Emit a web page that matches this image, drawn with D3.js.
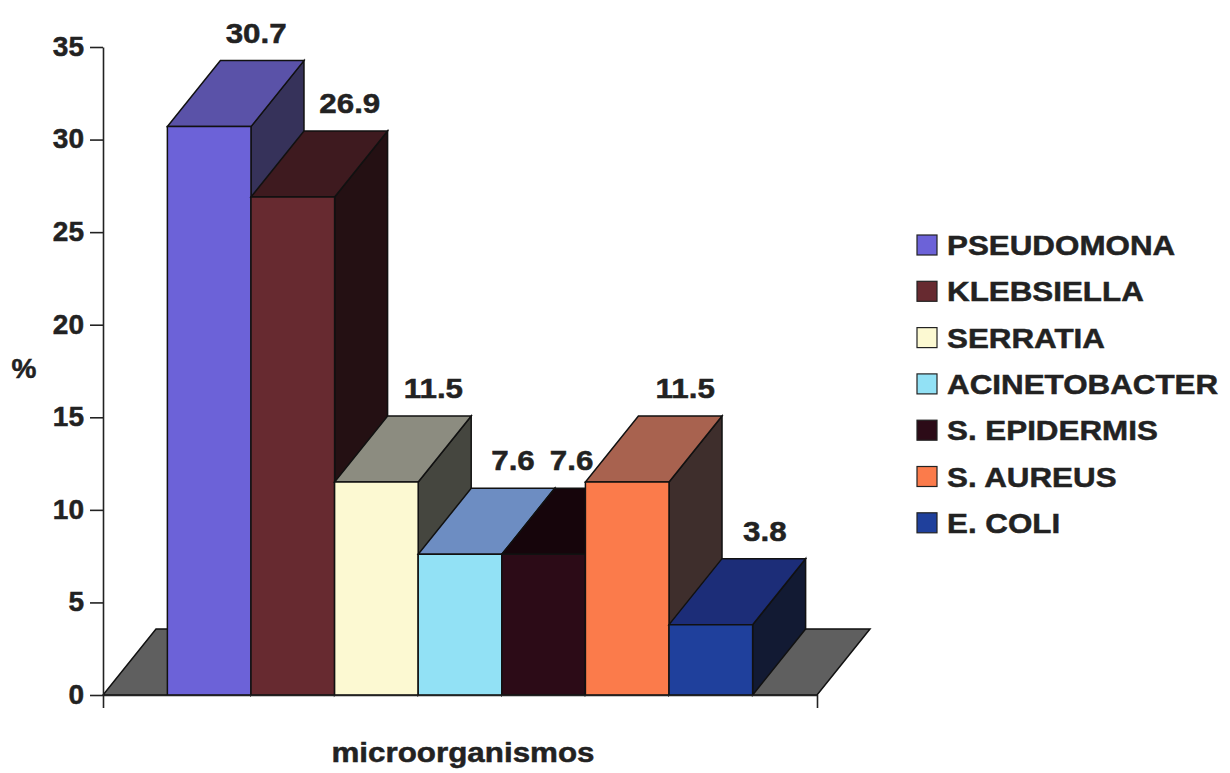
<!DOCTYPE html>
<html>
<head>
<meta charset="utf-8">
<script src="https://cdn.jsdelivr.net/npm/d3@7"></script>
<style>
  html, body { margin: 0; padding: 0; background: #ffffff; }
  svg { display: block; }
  text { font-family: "Liberation Sans", Arial, Helvetica, sans-serif; font-weight: bold; fill: #222222; stroke: #222222; stroke-width: 0.5px; }
</style>
</head>
<body>
<svg id="chart" width="1230" height="773"></svg>
<script>
// Microorganisms isolated (%), one 3D column per organism
const categories = ["PSEUDOMONA", "KLEBSIELLA", "SERRATIA", "ACINETOBACTER", "S. EPIDERMIS", "S. AUREUS", "E. COLI"];
const values = [30.7, 26.9, 11.5, 7.6, 7.6, 11.5, 3.8];
const yTicks = [0, 5, 10, 15, 20, 25, 30, 35];

// Face colours: front, top and right side of each column
const frontColors = ["#6c62d8", "#672a30", "#fcf9d2", "#92e1f5", "#2c0b17", "#fb7b4b", "#1f409c"];
const topColors   = ["#5a52a8", "#3e1a1f", "#8c8c80", "#6d8dc2", "#16050b", "#a8624f", "#1c2d78"];
const sideColors  = ["#36325a", "#241013", "#45463f", "#2a3a4c", "#0f0408", "#3e2e2c", "#121a33"];

const svg = d3.select("#chart");

// Plot frame
const x0 = 103, x1 = 817;
const dx = 53, dy = -66;   // depth offset of the 3D projection
const wide = 1.12;         // horizontal stretch of the bold lettering

const x = d3.scaleBand().domain(categories).range([x0, x1]).paddingInner(0).paddingOuter(0.77);
const y = d3.scaleLinear().domain([0, 35]).range([695, 47]);

const poly = pts => "M" + pts.map(p => p.join(",")).join("L") + "Z";

// Floor
const yb = y(0);
svg.append("path")
  .attr("d", poly([[x0, yb], [x1, yb], [x1 + dx, yb + dy], [x0 + dx, yb + dy]]))
  .attr("fill", "#5f5f5f")
  .attr("stroke", "#111")
  .attr("stroke-width", 1.5);

// Columns, painted left to right so each one hides its neighbour's side
const bars = svg.append("g");
categories.forEach((c, i) => {
  const xl = x(c), xr = xl + x.bandwidth(), yt = y(values[i]);
  const g = bars.append("g");
  g.append("path") // side
    .attr("d", poly([[xr, yt], [xr + dx, yt + dy], [xr + dx, yb + dy], [xr, yb]]))
    .attr("fill", sideColors[i]).attr("stroke", "#111").attr("stroke-width", 1.5);
  g.append("path") // top
    .attr("d", poly([[xl, yt], [xr, yt], [xr + dx, yt + dy], [xl + dx, yt + dy]]))
    .attr("fill", topColors[i]).attr("stroke", "#111").attr("stroke-width", 1.5);
  g.append("path") // front
    .attr("d", poly([[xl, yt], [xr, yt], [xr, yb], [xl, yb]]))
    .attr("fill", frontColors[i]).attr("stroke", "#111").attr("stroke-width", 1.5);
});

// Value labels above the back edge of each top
const labelNudge = [-6, 4, 4, 0, -25, 5, 1];
svg.append("g").selectAll("text")
  .data(categories)
  .join("text")
  .attr("transform", (c, i) =>
    `translate(${x(c) + x.bandwidth() / 2 + dx + labelNudge[i]},${y(values[i]) + dy - 18}) scale(${wide},1)`)
  .attr("text-anchor", "middle")
  .attr("font-size", 28)
  .text((c, i) => values[i].toFixed(1));

// Y axis
const yAxis = svg.append("g")
  .attr("transform", `translate(${x0},0)`)
  .call(d3.axisLeft(y).tickValues(yTicks).tickSize(13).tickSizeOuter(0).tickPadding(6));
yAxis.selectAll("path, line").attr("stroke", "#222").attr("stroke-width", 1.6);
yAxis.selectAll("text")
  .attr("font-size", 28)
  .attr("font-family", "Liberation Sans, Arial, sans-serif")
  .attr("font-weight", "bold")
  .attr("fill", "#222")
  .attr("dy", "0.3em");

// X axis: floor front edge with end ticks only
const xEdge = d3.scaleLinear().domain([0, 1]).range([x0, x1]);
const xAxis = svg.append("g")
  .attr("transform", `translate(0,${yb})`)
  .call(d3.axisBottom(xEdge).tickValues([0, 1]).tickSize(13).tickSizeOuter(0).tickFormat(""));
xAxis.selectAll("path, line").attr("stroke", "#222").attr("stroke-width", 1.6);

// Axis titles
svg.append("text")
  .attr("transform", `translate(${(x0 + x1) / 2 + 3},762) scale(${wide},1)`)
  .attr("text-anchor", "middle")
  .attr("font-size", 28)
  .text("microorganismos");

svg.append("text")
  .attr("transform", "translate(24,378)")
  .attr("text-anchor", "middle")
  .attr("font-size", 28)
  .text("%");

// Legend
const legend = svg.append("g").attr("transform", "translate(917,235)");
const row = legend.selectAll("g")
  .data(categories)
  .join("g")
  .attr("transform", (c, i) => `translate(0,${i * 46.3})`);
row.append("rect")
  .attr("width", 20).attr("height", 20)
  .attr("fill", (c, i) => frontColors[i])
  .attr("stroke", "#222").attr("stroke-width", 1.2);
row.append("text")
  .attr("transform", `translate(30,20) scale(${wide},1)`)
  .attr("font-size", 28)
  .text(c => c);
</script>
</body>
</html>
